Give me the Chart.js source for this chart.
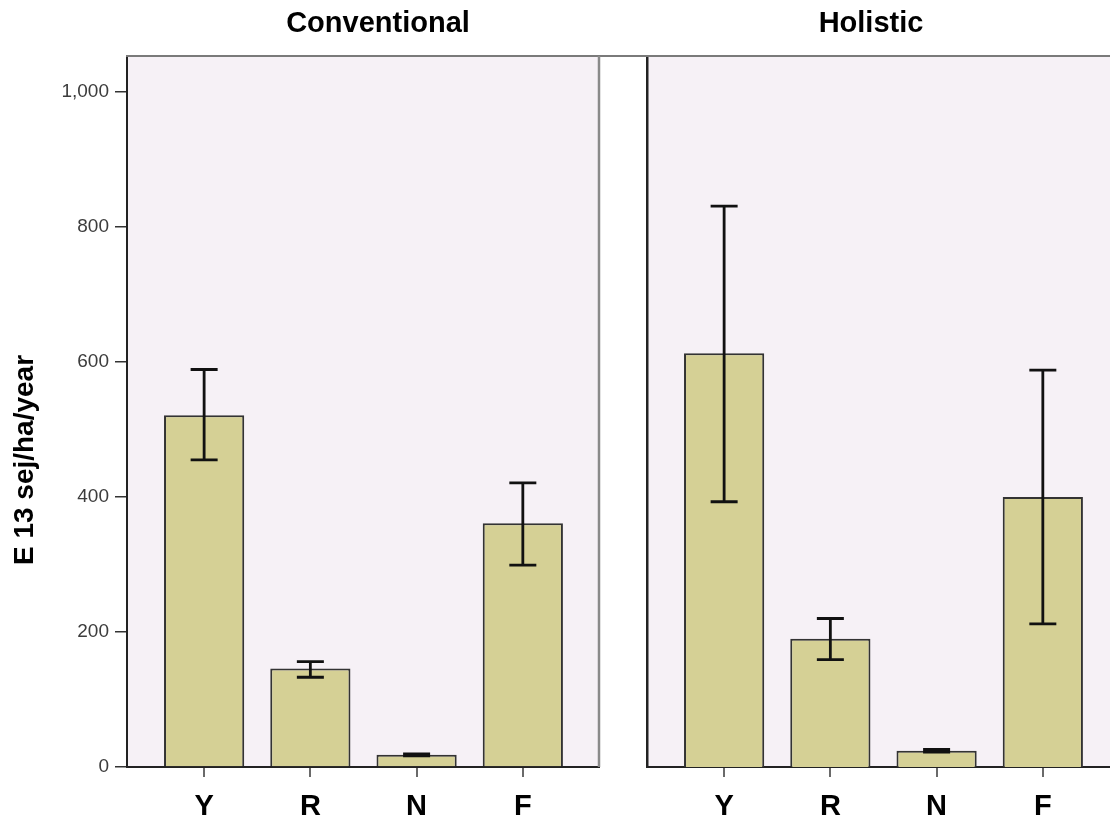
<!DOCTYPE html>
<html>
<head>
<meta charset="utf-8">
<script src="https://cdn.jsdelivr.net/npm/chart.js@4.4.1/dist/chart.umd.min.js"></script>
<style>
  html, body { margin: 0; padding: 0; background: #ffffff; }
  #wrap { position: relative; width: 1110px; height: 822px; overflow: hidden; }
  .panel { position: absolute; top: 0; height: 822px; }
  #p1 { left: 0; width: 620px; }
  #p2 { left: 620px; width: 520px; }
</style>
</head>
<body>
<div id="wrap">
  <div class="panel" id="p1"><canvas id="c1"></canvas></div>
  <div class="panel" id="p2"><canvas id="c2"></canvas></div>
</div>
<script>
// Emergy flows per hectare and year (E13 sej/ha/year), mean with error range
const categories = ['Y', 'R', 'N', 'F'];

const conventionalMean = [521, 146, 18, 361];
const conventionalLow  = [455, 133, 16.5, 299];
const conventionalHigh = [589, 156, 19.5, 421];

const holisticMean = [613, 190, 24, 400];
const holisticLow  = [393, 159, 22, 212];
const holisticHigh = [831, 220, 26, 588];

const yTicks = [0, 200, 400, 600, 800, 1000];
const panelTitles = ['Conventional', 'Holistic'];
const yAxisTitle = 'E 13 sej/ha/year';

Chart.defaults.font.family = "'Liberation Sans', Arial, sans-serif";

// Panel background, frame, error bars and panel headings
const panelDecor = {
  id: 'panelDecor',
  beforeDraw(chart, args, o) {
    const { ctx, chartArea: a } = chart;
    ctx.save();
    ctx.fillStyle = '#f6f1f6';
    ctx.fillRect(a.left, a.top, a.right - a.left, a.bottom - a.top);
    ctx.restore();
  },
  afterDatasetsDraw(chart, args, o) {
    const { ctx } = chart;
    const xs = chart.scales.x, ys = chart.scales.y;
    ctx.save();
    ctx.strokeStyle = '#111111';
    ctx.lineWidth = 2.8;
    ctx.lineCap = 'butt';
    const half = 13.5;
    categories.forEach((c, i) => {
      const x = xs.getPixelForValue(i);
      const yl = ys.getPixelForValue(o.low[i]);
      const yh = ys.getPixelForValue(o.high[i]);
      ctx.beginPath();
      ctx.moveTo(x, yl); ctx.lineTo(x, yh);
      ctx.moveTo(x - half, yl); ctx.lineTo(x + half, yl);
      ctx.moveTo(x - half, yh); ctx.lineTo(x + half, yh);
      ctx.stroke();
    });
    ctx.restore();
  },
  afterDraw(chart, args, o) {
    const { ctx, chartArea: a } = chart;
    ctx.save();
    // top frame line
    ctx.strokeStyle = '#7a7a7a';
    ctx.lineWidth = 2;
    ctx.beginPath();
    if (o.first) {
      ctx.moveTo(a.left - 1, a.top - 1); ctx.lineTo(chart.width, a.top - 1);
    } else {
      ctx.moveTo(0, a.top - 1); ctx.lineTo(a.right, a.top - 1);
    }
    ctx.stroke();
    // right frame line
    ctx.strokeStyle = '#8a8a8a';
    ctx.lineWidth = 2.5;
    ctx.beginPath();
    ctx.moveTo(a.right, a.top - 1); ctx.lineTo(a.right, a.bottom);
    ctx.stroke();
    // panel heading
    ctx.fillStyle = '#000000';
    ctx.font = "bold 29px 'Liberation Sans', Arial, sans-serif";
    ctx.textAlign = 'center';
    ctx.textBaseline = 'alphabetic';
    ctx.fillText(o.title, (a.left + a.right) / 2 + o.titleShift, a.top - 25);
    // value axis title
    if (o.first) {
      ctx.translate(33, (a.top + a.bottom) / 2 + 48);
      ctx.rotate(-Math.PI / 2);
      ctx.font = "bold 28px 'Liberation Sans', Arial, sans-serif";
      ctx.fillText(yAxisTitle, 0, 0);
    }
    ctx.restore();
  }
};

function makePanel(canvasId, first, title, titleShift, mean, low, high) {
  return new Chart(document.getElementById(canvasId), {
    type: 'bar',
    data: {
      datasets: [{
        data: categories.map((c, i) => ({ x: i, y: mean[i] })),
        backgroundColor: '#d5d095',
        borderColor: '#333333',
        borderWidth: 2,
        categoryPercentage: 1,
        barPercentage: 0.755
      }]
    },
    options: {
      responsive: true,
      maintainAspectRatio: false,
      animation: false,
      layout: { padding: { top: 57, right: 21, left: 0, bottom: 0 } },
      plugins: {
        legend: { display: false },
        tooltip: { enabled: false },
        panelDecor: { first, title, titleShift, low, high }
      },
      scales: {
        x: {
          type: 'linear',
          min: -0.726,
          max: 3.717,
          offset: false,
          afterBuildTicks: s => { s.ticks = categories.map((c, i) => ({ value: i })); },
          ticks: {
            callback: v => categories[v],
            color: '#000000',
            font: { size: 29, weight: 'bold', lineHeight: 1 },
            padding: 15,
            maxRotation: 0,
            autoSkip: false
          },
          grid: { offset: false, drawOnChartArea: false, drawTicks: true, tickLength: 10, color: '#6a6a6a', lineWidth: 2 },
          border: { display: true, color: '#222222', width: 2 },
          afterFit: s => { s.height = 55; }
        },
        y: {
          min: 0,
          max: 1052,
          afterBuildTicks: s => { s.ticks = yTicks.map(v => ({ value: v })); },
          ticks: {
            display: first,
            color: '#3c3c3c',
            font: { size: 19 },
            padding: 6,
            callback: v => v.toLocaleString('en-US')
          },
          grid: { display: first, drawOnChartArea: false, drawTicks: true, tickLength: 12, color: '#333333', lineWidth: 1.5 },
          border: { display: true, color: '#222222', width: first ? 2 : 2.5 },
          afterFit: s => { s.width = first ? 127 : 27; }
        }
      }
    },
    plugins: [panelDecor]
  });
}

makePanel('c1', true, panelTitles[0], 15, conventionalMean, conventionalLow, conventionalHigh);
makePanel('c2', false, panelTitles[1], -12, holisticMean, holisticLow, holisticHigh);
</script>
</body>
</html>
